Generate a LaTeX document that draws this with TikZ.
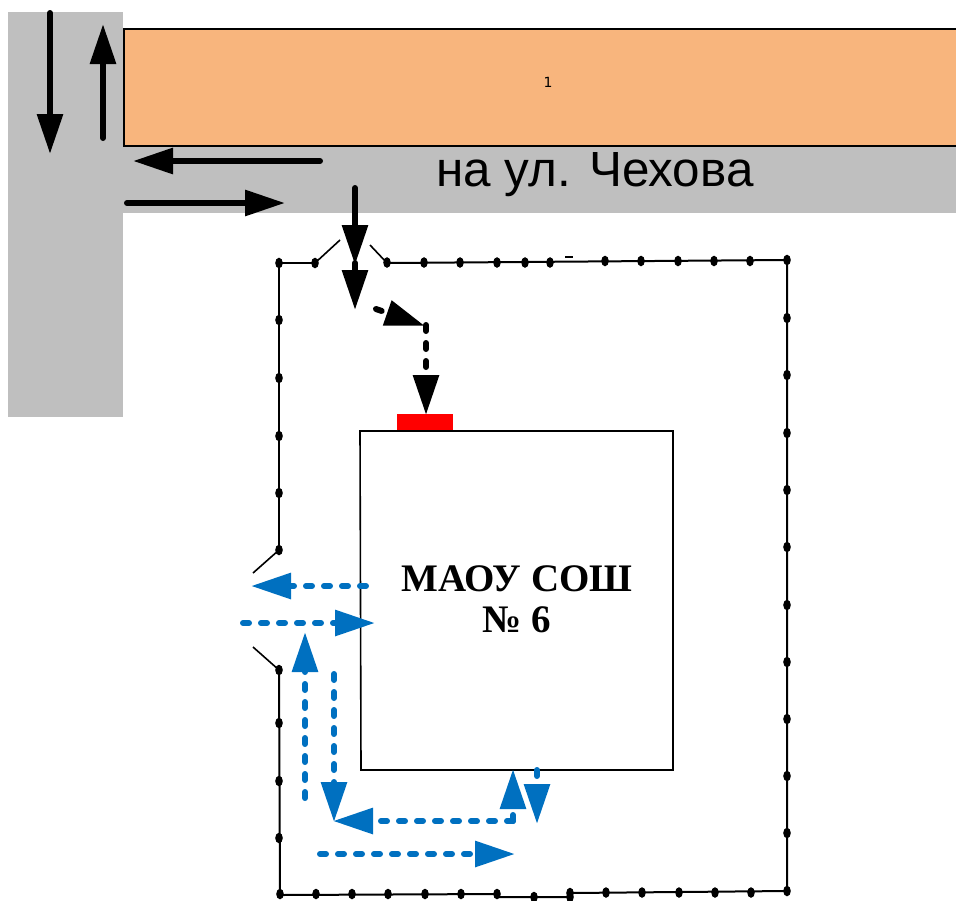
\documentclass[tikz,border=0pt]{standalone}
\usepackage{fontspec}
\setmainfont{Liberation Serif}
\newfontfamily\roadfont{Liberation Sans}
\newfontfamily\smallfont{DejaVu Sans}
\usetikzlibrary{arrows.meta}
\definecolor{roadgray}{HTML}{BFBFBF}
\definecolor{housefill}{HTML}{F8B57D}
\definecolor{routeblue}{HTML}{0070C0}
\tikzset{
	cartip/.style = {-{Triangle[length=20pt, width=12.5pt]}},
	car/.style = {cartip, line width=3pt, line cap=round},
	walk/.style = {cartip, line width=3pt, line cap=round, dash pattern=on 3pt off 6pt},
	walkblue/.style = {walk, routeblue},
	fence/.style = {line width=1pt},
	gate/.style = {line width=0.8pt}
}
\newcommand{\post}[2]{\fill (#1,#2) ellipse [x radius=3.8, y radius=5.3];}
\begin{document}
\begin{tikzpicture}[x=0.5pt, y=-0.5pt]
	\useasboundingbox (0,0) rectangle (956,900);

	% roads
	\fill[roadgray] (8,12) rectangle (123,417);
	\fill[roadgray] (123,146) rectangle (956,213);
	\draw[fill=housefill, line width=1pt] (956,29) -- (124,29) -- (124,146) -- (956,146);
	\node[font=\smallfont\fontsize{7}{8}\selectfont] (house) at (548,82) {1};
	\node[font=\roadfont\fontsize{24.7}{27}\selectfont, anchor=base] (street) at (595,186) {на ул. Чехова};

	% fence
	\draw[fence] (315,263) -- (279,263) -- (279,550);
	\draw[fence] (279,670) -- (280,895) -- (497,894) -- (497,897) -- (570,897) -- (570,893) -- (787,891) -- (787,260) -- (387,263);
	\draw[gate] (315,263) -- (340,240);
	\draw[gate] (387,263) -- (370,245);
	\draw[gate] (279,550) -- (253,573);
	\draw[gate] (279,670) -- (253,647);
	\draw[gate] (565,257) -- (573,257);

	\foreach \i in {279,315} {\post{\i}{263}}
	\foreach \i in {387,424,460,497,525,550} {\post{\i}{262.5}}
	\foreach \i in {605,641,678,714,750} {\post{\i}{261}}
	\post{787}{260}
	\foreach \i in {320,378,436,493,550,670,723,781,838} {\post{279}{\i}}
	\foreach \i in {318,375,433,490,547,605,662,719,776,833,891} {\post{787}{\i}}
	\foreach \i in {280,316,352,388,425,461,497} {\post{\i}{894}}
	\post{534}{897}
	\post{570}{893}
	\post{570}{897}
	\foreach \i in {606,642,679,715,751} {\post{\i}{892.5}}

	% school
	\fill[red] (397,414) rectangle (453,431);
	\draw[line width=0.8pt] (360,431) -- (673,431) -- (673,770) -- (361,770) -- cycle;
	\node[font=\bfseries\fontsize{19.5}{20.5}\selectfont, align=center] (school) at (517,599) {МАОУ СОШ\\№ 6};

	% cars
	\draw[car] (50,13) -- (50,154);
	\draw[car] (103,138) -- (103,24);
	\draw[car] (320,161) -- (133,161);
	\draw[car] (127,203) -- (285,203);
	\draw[car] (355,188) -- (355,265);
	\draw[car] (355,263) -- (355,310);
	\draw[walk] (376,309) -- (425,326);
	\draw[walk] (426,325) -- (426,415);

	% pupils
	\draw[walkblue] (366,586) -- (251,586);
	\draw[walkblue] (243,623) -- (375,623);
	\draw[walkblue] (305,798) -- (305,632);
	\draw[walkblue] (334,674) -- (334,822);
	\draw[walkblue] (513,821) -- (333,821);
	\draw[walkblue] (513,821) -- (513,769);
	\draw[walkblue] (537,770) -- (537,824);
	\draw[walkblue] (320,854) -- (515,854);
\end{tikzpicture}
\end{document}
